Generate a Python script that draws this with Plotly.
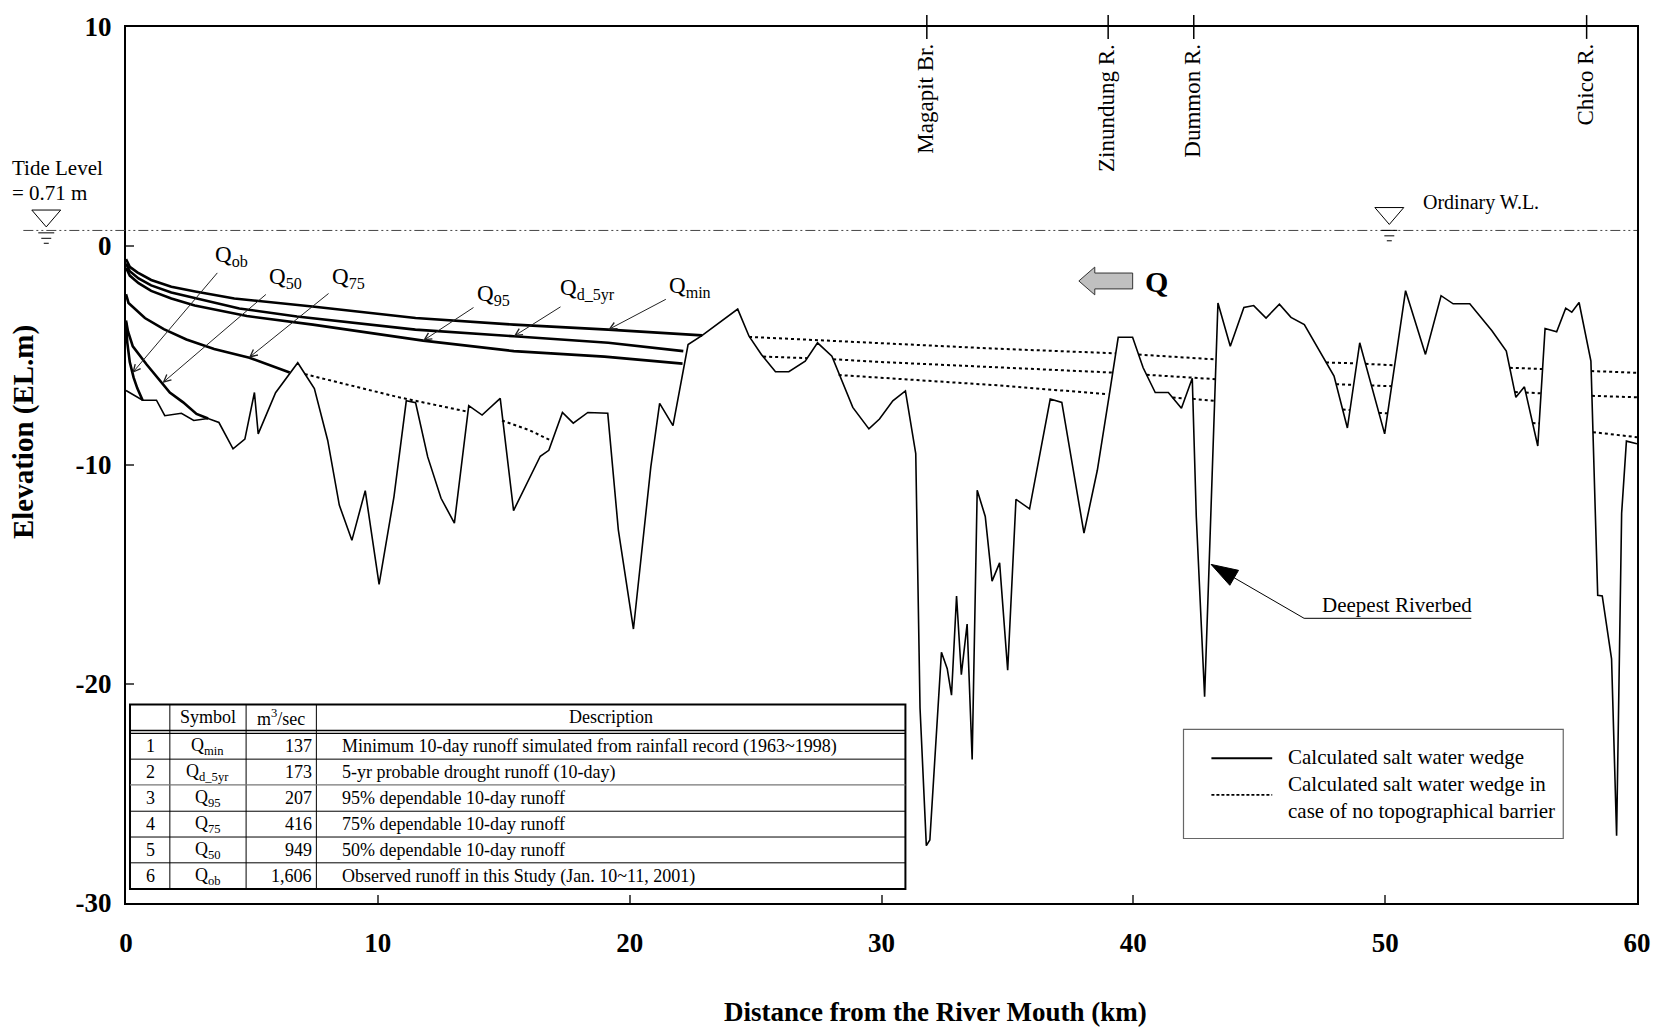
import plotly.graph_objects as go

# ---------------- data ----------------
riverbed_km = [0.0, 0.66, 1.21, 1.54, 2.2, 2.69, 3.26, 3.69, 4.25, 4.72, 5.1, 5.25, 5.94, 6.82, 7.48, 8.01,
               8.47, 8.97, 9.5, 10.05, 10.64, 11.13, 11.5, 11.98, 12.51, 13.04, 13.61, 14.14, 14.86, 15.39,
               16.45, 16.79, 17.33, 17.76, 18.34, 19.13, 19.55, 20.15, 20.84, 21.19, 21.72, 22.32, 22.88,
               24.29, 24.74, 25.23, 25.79, 26.32, 26.97, 27.46, 28.03, 28.86, 29.5, 29.92, 30.45, 30.95,
               31.36, 31.45, 31.53, 31.78, 31.92, 32.38, 32.61, 32.78, 32.98, 33.17, 33.4, 33.6, 33.8, 34.12,
               34.39, 34.69, 35.01, 35.34, 35.88, 36.7, 37.16, 38.04, 38.57, 39.05, 39.4, 39.97, 40.39,
               40.87, 41.39, 41.91, 42.34, 42.5, 42.83, 43.03, 43.26, 43.36, 43.85, 44.39, 44.78, 45.27,
               45.8, 46.26, 46.79, 47.38, 47.97, 48.5, 48.99, 49.98, 50.81, 51.6, 52.22, 52.7, 53.36, 54.24,
               54.81, 55.19, 55.53, 56.06, 56.35, 56.81, 57.17, 57.41, 57.7, 58.17, 58.44, 58.62, 58.99,
               59.19, 59.39, 59.58, 60.0]
riverbed_el = [-6.6, -7.04, -7.04, -7.75, -7.64, -7.97, -7.88, -8.06, -9.26, -8.82, -6.69, -8.58, -6.7, -5.33,
               -6.51, -8.88, -11.83, -13.44, -11.17, -15.45, -11.45, -7.07, -7.16, -9.63, -11.52, -12.65,
               -7.29, -7.72, -6.96, -12.08, -9.6, -9.33, -7.6, -8.09, -7.6, -7.64, -12.96, -17.49, -10.09,
               -7.19, -8.2, -4.5, -4.08, -2.88, -4.12, -4.95, -5.74, -5.74, -5.26, -4.42, -5.03, -7.37,
               -8.35, -7.9, -7.07, -6.62, -9.48, -16.28, -21.1, -27.38, -27.12, -18.55, -19.3, -20.51,
               -15.98, -19.57, -17.26, -23.45, -11.15, -12.35, -15.3, -14.47, -19.37, -11.57, -12.0, -6.99,
               -7.14, -13.11, -10.24, -6.76, -4.17, -4.17, -5.56, -6.69, -6.69, -7.41, -6.04, -12.35,
               -20.58, -13.86, -6.31, -2.6, -4.58, -2.81, -2.72, -3.29, -2.66, -3.26, -3.59, -4.8, -5.94,
               -8.31, -4.42, -8.58, -2.04, -4.95, -2.27, -2.64, -2.64, -3.87, -4.8, -6.91, -6.43, -9.13,
               -3.77, -3.92, -2.84, -3.02, -2.58, -5.26, -15.95, -15.98, -18.85, -26.93, -12.2, -8.91, -9.03]

# calculated salt water wedges (solid)
qmin_km = [0, 0.15, 0.45, 1.0, 1.8, 2.75, 4.3, 7.4, 11.5, 15.4, 19.15, 22.88]
qmin_el = [-0.6, -0.95, -1.2, -1.55, -1.86, -2.08, -2.4, -2.76, -3.29, -3.59, -3.82, -4.08]
qd5_km = [0, 0.15, 0.5, 1.0, 1.8, 2.73, 4.5, 6.79, 11.49, 15.4, 19.15, 22.13]
qd5_el = [-0.8, -1.15, -1.48, -1.8, -2.12, -2.38, -2.85, -3.22, -3.82, -4.12, -4.42, -4.8]
q95_km = [0, 0.15, 0.5, 1.0, 1.8, 2.73, 4.8, 7.42, 11.8, 15.4, 19.0, 22.1]
q95_el = [-1.0, -1.35, -1.7, -2.05, -2.4, -2.72, -3.2, -3.59, -4.32, -4.8, -5.05, -5.37]
q75_km = [0, 0.1, 0.75, 1.5, 2.4, 3.5, 4.9, 6.5]
q75_el = [-2.2, -2.6, -3.29, -3.8, -4.27, -4.7, -5.1, -5.78]
q50_km = [0, 0.08, 0.27, 0.82, 1.74, 2.27, 2.8, 3.26]
q50_el = [-3.4, -3.9, -4.58, -5.41, -6.69, -7.14, -7.67, -7.88]
qob_km = [0, 0.05, 0.15, 0.3, 0.45, 0.66]
qob_el = [-3.5, -4.4, -5.3, -6.0, -6.5, -7.04]

# salt water wedges in case of no topographical barrier (dotted, hidden below riverbed)
nb75_km = [7.1, 10.84, 13.5, None, 14.93, 16.0, 16.87]
nb75_el = [-5.85, -6.91, -7.55, None, -7.97, -8.4, -8.88]
nbmin_km = [24.74, 29.84, 34.59, 39.3, None, 40.21, 43.27, None, 47.65, 48.87, None, 49.22, 50.38, None,
            54.95, 56.25, None, 58.18, 60.0]
nbmin_el = [-4.15, -4.42, -4.69, -4.9, None, -4.96, -5.18, None, -5.32, -5.36, None, -5.38, -5.45, None,
            -5.56, -5.62, None, -5.71, -5.79]
nbd5_km = [25.3, 27.05, None, 28.08, 29.84, 39.18, None, 40.53, 43.27, None, 48.05, 48.76, None, 49.45,
           50.26, None, 55.15, 55.35, None, 55.58, 56.19, None, 58.21, 60.0]
nbd5_el = [-5.05, -5.12, None, -5.17, -5.29, -5.78, None, -5.88, -6.08, None, -6.31, -6.34, None, -6.37,
           -6.4, None, -6.67, -6.68, None, -6.69, -6.73, None, -6.84, -6.91]
nb95_km = [28.3, 34.59, 39.0, None, 41.56, 42.05, None, 42.36, 43.24, None, 48.31, 48.6, None, 49.75,
           50.1, None, 55.85, 56.12, None, 58.25, 60.0]
nb95_el = [-5.89, -6.36, -6.77, None, -6.92, -6.96, None, -6.98, -7.07, None, -7.47, -7.49, None, -7.62,
           -7.64, None, -8.08, -8.1, None, -8.5, -8.73]

# places along the river
loc_names = ["Magapit Br.", "Zinundung R.", "Dummon R.", "Chico R."]
loc_km = [31.8, 39.0, 42.4, 58.0]
tide_level = 0.71

# axis ticks
x_ticks = [0, 10, 20, 30, 40, 50, 60]
y_ticks = [-30, -20, -10, 0, 10]

# runoff table
tbl_no = ["1", "2", "3", "4", "5", "6"]
tbl_symbol = ["Q<sub>min</sub>", "Q<sub>d_5yr</sub>", "Q<sub>95</sub>", "Q<sub>75</sub>", "Q<sub>50</sub>", "Q<sub>ob</sub>"]
tbl_flow = ["137", "173", "207", "416", "949", "1,606"]
tbl_desc = ["Minimum 10-day runoff simulated from rainfall record (1963~1998)",
            "5-yr probable drought runoff (10-day)",
            "95% dependable 10-day runoff",
            "75% dependable 10-day runoff",
            "50% dependable 10-day runoff",
            "Observed runoff in this Study (Jan. 10~11, 2001)"]

# curve labels (label centre) and the point on the curve their leader points to (km, EL.m)
lab_text = ["Q<sub>ob</sub>", "Q<sub>50</sub>", "Q<sub>75</sub>", "Q<sub>95</sub>", "Q<sub>d_5yr</sub>", "Q<sub>min</sub>"]
lab_km = [4.2, 6.33, 8.82, 14.58, 18.33, 22.4]
lab_el = [-0.45, -1.45, -1.45, -2.22, -2.0, -1.85]
lead_to_km = [0.25, 1.45, 4.88, 11.8, 15.4, 19.15]
lead_to_el = [-5.8, -6.25, -5.1, -4.32, -4.12, -3.82]

# deepest riverbed pointer: underline end, bend, arrow tip (km, EL.m)
deep_km = [53.42, 46.78, 43.09]
deep_el = [-17.0, -17.0, -14.54]

# ---------------- layout helpers ----------------
W, H = 1663, 1032
ML, MR, MT, MB = 126, 21, 20, 129
PW, PH = W - ML - MR, H - MT - MB
SERIF = "Liberation Serif"


def X(p):
    return (p - ML) / PW


def Y(p):
    return (H - MB - p) / PH


fig = go.Figure()

solid = dict(color="black", width=2.6)
dotted = dict(color="black", width=2, dash="3px,3px")

fig.add_trace(go.Scatter(x=riverbed_km, y=riverbed_el, mode="lines", name="Deepest Riverbed",
                         line=dict(color="black", width=1.6)))
for nm, xs, ys in [("Qmin", qmin_km, qmin_el), ("Qd_5yr", qd5_km, qd5_el), ("Q95", q95_km, q95_el),
                   ("Q75", q75_km, q75_el), ("Q50", q50_km, q50_el), ("Qob", qob_km, qob_el)]:
    fig.add_trace(go.Scatter(x=xs, y=ys, mode="lines", name=nm, line=solid))
for nm, xs, ys in [("Q75 no barrier", nb75_km, nb75_el), ("Qmin no barrier", nbmin_km, nbmin_el),
                   ("Qd_5yr no barrier", nbd5_km, nbd5_el), ("Q95 no barrier", nb95_km, nb95_el)]:
    fig.add_trace(go.Scatter(x=xs, y=ys, mode="lines", name=nm, line=dotted, connectgaps=False))

# place markers on the top frame
fig.add_trace(go.Scatter(x=loc_km, y=[10] * len(loc_km), mode="markers", cliponaxis=False,
                         marker=dict(symbol="line-ns", size=17, color="black",
                                     line=dict(width=1.5, color="black"))))

# deepest riverbed pointer (underline + arrow)
fig.add_trace(go.Scatter(x=deep_km, y=deep_el, mode="lines+markers", line=dict(color="black", width=1),
                         marker=dict(symbol=["circle", "circle", "arrow"], size=[0, 0, 28], angleref="previous",
                                     color="black", opacity=1, line=dict(width=1, color="black"))))

shapes = []
ann = []

# water level line
shapes.append(dict(type="line", xref="paper", yref="y", x0=X(23), x1=1, y0=tide_level, y1=tide_level,
                   line=dict(color="#444", width=1, dash="10px,3px,2px,3px,2px,3px")))


def wl_symbol(cx, top):
    shapes.append(dict(type="path", xref="paper", yref="paper",
                       path=f"M{X(cx-14.5)},{Y(top)} L{X(cx+14.5)},{Y(top)} L{X(cx)},{Y(top+17)} Z",
                       line=dict(color="black", width=1)))
    for dy, hw in [(23, 8), (28.5, 5), (33.5, 2.5)]:
        shapes.append(dict(type="line", xref="paper", yref="paper", x0=X(cx - hw), x1=X(cx + hw),
                           y0=Y(top + dy), y1=Y(top + dy), line=dict(color="black", width=1)))


wl_symbol(46, 204.5)
wl_symbol(1393.5, 202)

ann.append(dict(text="Tide Level", xref="paper", yref="paper", x=X(10), y=Y(162), xanchor="left",
                yanchor="middle", showarrow=False, font=dict(family=SERIF, size=21, color="black")))
ann.append(dict(text=f"= {tide_level} m", xref="paper", yref="paper", x=X(10), y=Y(187), xanchor="left",
                yanchor="middle", showarrow=False, font=dict(family=SERIF, size=21, color="black")))
ann.append(dict(text="Ordinary W.L.", xref="paper", yref="paper", x=X(1425), y=Y(197), xanchor="left",
                yanchor="middle", showarrow=False, font=dict(family=SERIF, size=20, color="black")))

# place names
for nm, km in zip(loc_names, loc_km):
    ann.append(dict(text=nm, xref="x", yref="paper", x=km, y=Y(35), xanchor="center", yanchor="top",
                    xshift=-1, textangle=-90, showarrow=False,
                    font=dict(family=SERIF, size=23, color="black")))

# curve labels with leaders
for t, lx, ly, tx, ty in zip(lab_text, lab_km, lab_el, lead_to_km, lead_to_el):
    ann.append(dict(text=t, xref="x", yref="y", axref="x", ayref="y", x=tx, y=ty, ax=lx, ay=ly,
                    showarrow=True, arrowhead=5, arrowsize=1.4, arrowwidth=1, arrowcolor="#222",
                    standoff=0, startstandoff=2, font=dict(family=SERIF, size=23, color="black")))

# flow direction arrow
pts = [(1082, 276), (1098, 262), (1098, 268), (1136, 268), (1136, 284), (1098, 284), (1098, 290)]
shapes.append(dict(type="path", xref="paper", yref="paper",
                   path="M" + " L".join(f"{X(a)},{Y(b)}" for a, b in pts) + " Z",
                   fillcolor="#c0c0c0", line=dict(color="#333", width=1)))
ann.append(dict(text="<b>Q</b>", xref="paper", yref="paper", x=X(1160), y=Y(277), xanchor="center",
                yanchor="middle", showarrow=False, font=dict(family=SERIF, size=30, color="black")))

ann.append(dict(text="Deepest Riverbed", xref="paper", yref="paper", x=X(1401), y=Y(603), xanchor="center",
                yanchor="middle", showarrow=False, font=dict(family=SERIF, size=21, color="black")))

# legend box
shapes.append(dict(type="rect", xref="paper", yref="paper", x0=X(1187), x1=X(1568), y0=Y(728), y1=Y(838),
                   fillcolor="white", line=dict(color="#666", width=1.2)))
shapes.append(dict(type="line", xref="paper", yref="paper", x0=X(1215), x1=X(1276), y0=Y(757), y1=Y(757),
                   line=dict(color="black", width=2)))
shapes.append(dict(type="line", xref="paper", yref="paper", x0=X(1215), x1=X(1276), y0=Y(794), y1=Y(794),
                   line=dict(color="black", width=1.6, dash="3px,2px")))
ann.append(dict(text="Calculated salt water wedge", xref="paper", yref="paper", x=X(1290), y=Y(756),
                xanchor="left", yanchor="middle", showarrow=False,
                font=dict(family=SERIF, size=21, color="black")))
ann.append(dict(text="Calculated salt water wedge in<br>case of no topographical barrier", xref="paper",
                yref="paper", x=X(1290), y=Y(797), xanchor="left", yanchor="middle", align="left",
                showarrow=False, font=dict(family=SERIF, size=21, color="black")))

# runoff table
TL, TR, TT, TB = 130, 908, 703, 889
cols = [170, 246.5, 317]
shapes.append(dict(type="rect", xref="paper", yref="paper", x0=X(TL), x1=X(TR), y0=Y(TT), y1=Y(TB),
                   fillcolor="white", line=dict(color="black", width=2)))
for c in cols:
    shapes.append(dict(type="line", xref="paper", yref="paper", x0=X(c), x1=X(c), y0=Y(TT), y1=Y(TB),
                       line=dict(color="black", width=1)))
for yy, col, wd in [(729, "black", 1.5), (732, "black", 1.2), (758, "black", 1), (784, "#777", 1.2),
                    (810.5, "black", 1), (836.5, "black", 1), (862.5, "black", 1)]:
    shapes.append(dict(type="line", xref="paper", yref="paper", x0=X(TL), x1=X(TR), y0=Y(yy), y1=Y(yy),
                       line=dict(color=col, width=wd)))
tf = dict(family=SERIF, size=18, color="black")
hy = 716
for t, cx in [("Symbol", (170 + 246.5) / 2), ("m<sup>3</sup>/sec", (246.5 + 317) / 2), ("Description", (317 + 908) / 2)]:
    ann.append(dict(text=t, xref="paper", yref="paper", x=X(cx), y=Y(hy), xanchor="center", yanchor="middle",
                    showarrow=False, font=tf))
row_top = 732
row_h = 26.2
for i in range(len(tbl_no)):
    cy = row_top + row_h * (i + 0.5)
    ann.append(dict(text=tbl_no[i], xref="paper", yref="paper", x=X(151), y=Y(cy), xanchor="center",
                    yanchor="middle", showarrow=False, font=tf))
    ann.append(dict(text=tbl_symbol[i], xref="paper", yref="paper", x=X(208), y=Y(cy), xanchor="center",
                    yanchor="middle", showarrow=False, font=tf))
    ann.append(dict(text=tbl_flow[i], xref="paper", yref="paper", x=X(315), y=Y(cy), xanchor="right",
                    yanchor="middle", showarrow=False, font=tf))
    ann.append(dict(text=tbl_desc[i], xref="paper", yref="paper", x=X(341), y=Y(cy), xanchor="left",
                    yanchor="middle", showarrow=False, font=tf))

# axis titles
ann.append(dict(text="<b>Distance from the River Mouth (km)</b>", xref="paper", yref="paper", x=X(938),
                y=Y(1013), xanchor="center", yanchor="middle", showarrow=False,
                font=dict(family=SERIF, size=27, color="black")))
ann.append(dict(text="<b>Elevation (EL.m)</b>", xref="paper", yref="paper", x=X(23), y=Y(428),
                xanchor="center", yanchor="middle", textangle=-90, showarrow=False,
                font=dict(family=SERIF, size=29, color="black")))

axis_common = dict(showgrid=False, zeroline=False, showline=True, linecolor="black", linewidth=2,
                   mirror=True, ticks="inside", ticklen=8, tickwidth=1.5, tickcolor="#555",
                   tickfont=dict(family=SERIF, size=27, color="black", weight="bold"))

fig.update_layout(
    width=W, height=H, margin=dict(l=ML, r=MR, t=MT, b=MB),
    paper_bgcolor="white", plot_bgcolor="white", showlegend=False,
    xaxis=dict(range=[0, 60], tickvals=x_ticks, ticktext=[str(v) for v in x_ticks], ticklabelstandoff=15,
               **axis_common),
    yaxis=dict(range=[-30, 10], tickvals=y_ticks, ticktext=[str(v) for v in y_ticks], ticklabelstandoff=7,
               **axis_common),
    shapes=shapes, annotations=ann,
)

fig.write_html("out.html")
